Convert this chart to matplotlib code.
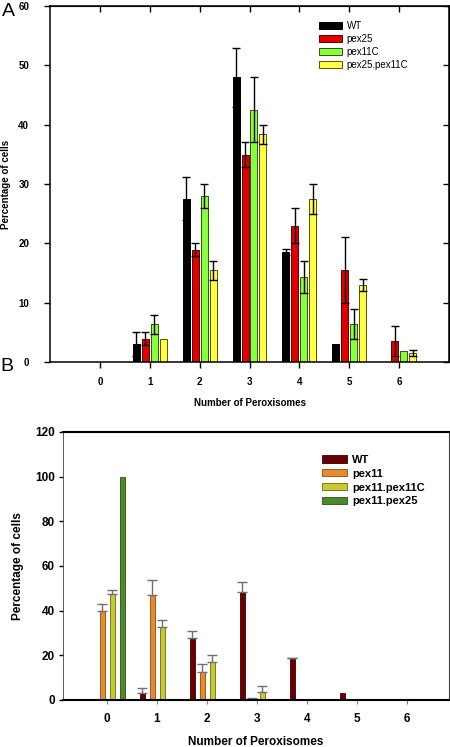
import numpy as np
import matplotlib
matplotlib.use('Agg')
from matplotlib import pyplot as plt

plt.rcParams['font.family'] = ['Liberation Sans', 'DejaVu Sans']

peroxisomes = [0, 1, 2, 3, 4, 5, 6]

# panel A
labels_a = ['WT', 'pex25', 'pex11C', 'pex25.pex11C']
wt_a = [0, 3.0, 27.5, 48.0, 18.5, 3.0, 0]
wt_a_err = [0, 2.0, 3.6, 5.0, 0.5, 0, 0]
pex25_a = [0, 3.9, 18.9, 34.9, 23.0, 15.5, 3.5]
pex25_a_err = [0, 1.1, 1.1, 2.1, 3.0, 5.5, 2.5]
pex11c_a = [0, 6.4, 28.0, 42.5, 14.4, 6.4, 1.9]
pex11c_a_err = [0, 1.6, 2.0, 5.5, 2.7, 2.6, 0]
pex25pex11c_a = [0, 3.9, 15.5, 38.4, 27.5, 13.0, 1.5]
pex25pex11c_a_err = [0, 0, 1.6, 1.6, 2.5, 1.0, 0.5]

# panel B
labels_b = ['WT', 'pex11', 'pex11.pex11C', 'pex11.pex25']
wt_b = [0, 3.1, 27.7, 48.2, 18.6, 3.1, 0]
wt_b_err = [0, 2.1, 3.4, 4.8, 0.4, 0, 0]
pex11_b = [40.0, 47.2, 12.5, 0.5, 0, 0, 0]
pex11_b_err = [3.2, 6.7, 3.4, 0.5, 0, 0, 0]
pex11pex11c_b = [47.3, 32.6, 17.1, 3.7, 0, 0, 0]
pex11pex11c_b_err = [1.8, 3.4, 2.9, 2.4, 0, 0, 0]
pex11pex25_b = [100, 0, 0, 0, 0, 0, 0]
pex11pex25_b_err = [0, 0, 0, 0, 0, 0, 0]

fig = plt.figure(figsize=(4.5, 7.47), dpi=100)

# ---------- A ----------
axA = fig.add_axes([50/450, (747-362)/747, 399/450, 356/747])
x = np.array(peroxisomes, dtype=float)
seriesA = [(wt_a, wt_a_err, '#000000', '#000000'),
           (pex25_a, pex25_a_err, '#e00000', '#600000'),
           (pex11c_a, pex11c_a_err, '#88ff3c', '#305010'),
           (pex25pex11c_a, pex25pex11c_a_err, '#ffff40', '#505010')]
offsA = [-0.27, -0.09, 0.09, 0.27]
for (vals, errs, fc, ec), off, lab in zip(seriesA, offsA, labels_a):
    vals = np.array(vals, dtype=float)
    errs = np.array(errs, dtype=float)
    axA.bar(x + off, vals, width=0.14, color=fc, edgecolor=ec, linewidth=0.7, label=lab)
    m = errs > 0
    axA.errorbar(x[m] + off, vals[m], yerr=errs[m], fmt='none', ecolor='black',
                 elinewidth=1.0, capsize=2.8, capthick=1.0)

axA.set_xlim(-1, 7)
axA.set_ylim(0, 60)
axA.set_xticks(peroxisomes)
axA.set_yticks([0, 10, 20, 30, 40, 50, 60])
axA.tick_params(axis='x', direction='out', length=4, width=1, labelsize=7, pad=7)
axA.tick_params(axis='y', direction='out', length=4, width=1, labelsize=7, pad=11)
for t in axA.get_xticklabels() + axA.get_yticklabels():
    t.set_fontweight('bold')
secA = axA.secondary_xaxis('top')
secA.set_xticks(peroxisomes)
secA.tick_params(direction='in', length=4, width=1, labeltop=False)
secAy = axA.secondary_yaxis('right')
secAy.set_yticks([0, 10, 20, 30, 40, 50, 60])
secAy.tick_params(direction='in', length=4, width=1, labelright=False)
for s in axA.spines.values():
    s.set_linewidth(1.1)
axA.set_xlabel('Number of Peroxisomes', fontsize=7, fontweight='bold', labelpad=8)
axA.set_ylabel('Percentage of cells', fontsize=7, fontweight='bold', labelpad=5)
axA.legend(loc='upper left', bbox_to_anchor=(0.675, 0.958), frameon=False,
           fontsize=7, handlelength=2.3, handleheight=0.7, labelspacing=0.3,
           handletextpad=0.5, borderpad=0, borderaxespad=0)
fig.text(0.005, 0.985, 'A', fontsize=14, va='center', ha='left')

# ---------- B ----------
axB = fig.add_axes([63/450, (747-700)/747, 386/450, 268/747])
seriesB = [(wt_b, wt_b_err, '#6a0000', '#3a0000'),
           (pex11_b, pex11_b_err, '#e8892c', '#8a4a10'),
           (pex11pex11c_b, pex11pex11c_b_err, '#c8c834', '#6a6a10'),
           (pex11pex25_b, pex11pex25_b_err, '#4a8a28', '#2a5010')]
offsB = [-0.3, -0.1, 0.1, 0.3]
for (vals, errs, fc, ec), off, lab in zip(seriesB, offsB, labels_b):
    vals = np.array(vals, dtype=float)
    errs = np.array(errs, dtype=float)
    axB.bar(x + off, vals, width=0.1, color=fc, edgecolor=ec, linewidth=0.6, label=lab)
    m = errs > 0
    axB.errorbar(x[m] + off, vals[m], yerr=[np.zeros(m.sum()), errs[m]], fmt='none',
                 ecolor='#707070', elinewidth=1.0, capsize=3.5, capthick=1.0)

axB.set_xlim(-0.88, 6.84)
axB.set_ylim(0, 120)
axB.set_xticks(peroxisomes)
axB.set_yticks([0, 20, 40, 60, 80, 100, 120])
axB.tick_params(axis='x', direction='out', length=3, width=0.8, color='#808080',
                labelsize=8.5, pad=6)
axB.tick_params(axis='y', direction='out', length=3, width=1, labelsize=8.5, pad=3)
for t in axB.get_xticklabels() + axB.get_yticklabels():
    t.set_fontweight('bold')
axB.spines['top'].set_linewidth(1.5)
axB.spines['bottom'].set_linewidth(1.5)
axB.spines['left'].set_linewidth(0.6)
axB.spines['left'].set_color('#404040')
axB.spines['right'].set_linewidth(0.8)
axB.spines['right'].set_color('#404040')
axB.set_xlabel('Number of Peroxisomes', fontsize=8.5, fontweight='bold')
axB.xaxis.set_label_coords(0.5, -0.135)
axB.set_ylabel('Percentage of cells', fontsize=8.5, fontweight='bold', labelpad=8)
axB.legend(loc='upper left', bbox_to_anchor=(0.672, 0.915), frameon=False,
           prop={'size': 8, 'weight': 'bold'}, handlelength=2.2, handleheight=0.65,
           labelspacing=0.35, handletextpad=0.5, borderpad=0, borderaxespad=0)
fig.text(0.0, 0.509, 'B', fontsize=14, va='center', ha='left')

fig.savefig('out.png', dpi=100)
